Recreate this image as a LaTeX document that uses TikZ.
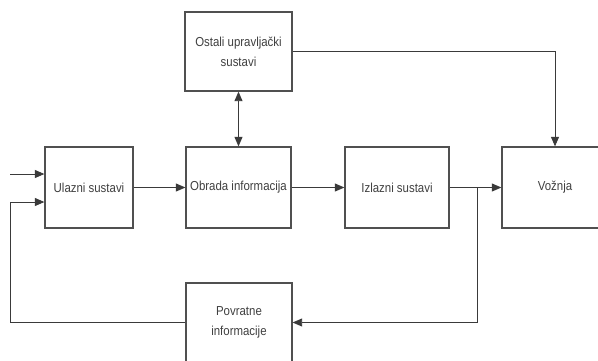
\documentclass[tikz,border=0pt]{standalone}
\usepackage{fontspec}
\setmainfont{Liberation Sans}[FakeStretch=0.88]
\usetikzlibrary{arrows.meta}
\definecolor{lc}{HTML}{3A3A3A}
\definecolor{bc}{HTML}{505050}
\definecolor{tc}{HTML}{404040}
\begin{document}
\begin{tikzpicture}[x=1pt,y=-1pt,
  blk/.style={draw=bc,line width=1.3pt,minimum height=81pt,inner sep=0pt,text=tc,align=center,
    font=\fontsize{13pt}{20pt}\selectfont},
  con/.style={draw=lc,line width=0.9pt},
  tip/.tip={Triangle[length=9.5pt,width=8pt]},
  arr/.style={con,-tip}]
\clip (0,0) rectangle (598,360);
\fill[white] (0,0) rectangle (598,360);
\node[blk,minimum width=88pt] (ul) at (89,187.5) {Ulazni sustavi};
\node[blk,minimum width=105pt] (ob) at (238.5,187.5) {Obrada informacija};
\node[blk,minimum width=104pt] (iz) at (397,187.5) {Izlazni sustavi};
\node[blk,minimum width=106pt] (vo) at (555,187.5) {Vožnja};
\node[blk,minimum width=107pt,minimum height=79pt] (os) at (238.5,51.5) {Ostali upravljački\\sustavi};
\node[blk,minimum width=106pt,minimum height=79pt] (po) at (239,322.5) {Povratne\\informacije};
\coordinate (in) at (10,174);
\coordinate (j) at (477,187.5);
\coordinate (bl) at (10,322.5);
\draw[arr] (in) -- (ul.west |- in);
\draw[arr] (ul) -- (ob);
\draw[arr] (ob) -- (iz);
\draw[arr] (iz) -- (vo);
\draw[con,tip-tip] (os) -- (ob);
\draw[arr] (os.east) -| (vo.north);
\draw[arr] (j) |- (po.east);
\draw[arr] (po.west) -- (bl) |- ([yshift=-14.5pt]ul.west);
\end{tikzpicture}
\end{document}
